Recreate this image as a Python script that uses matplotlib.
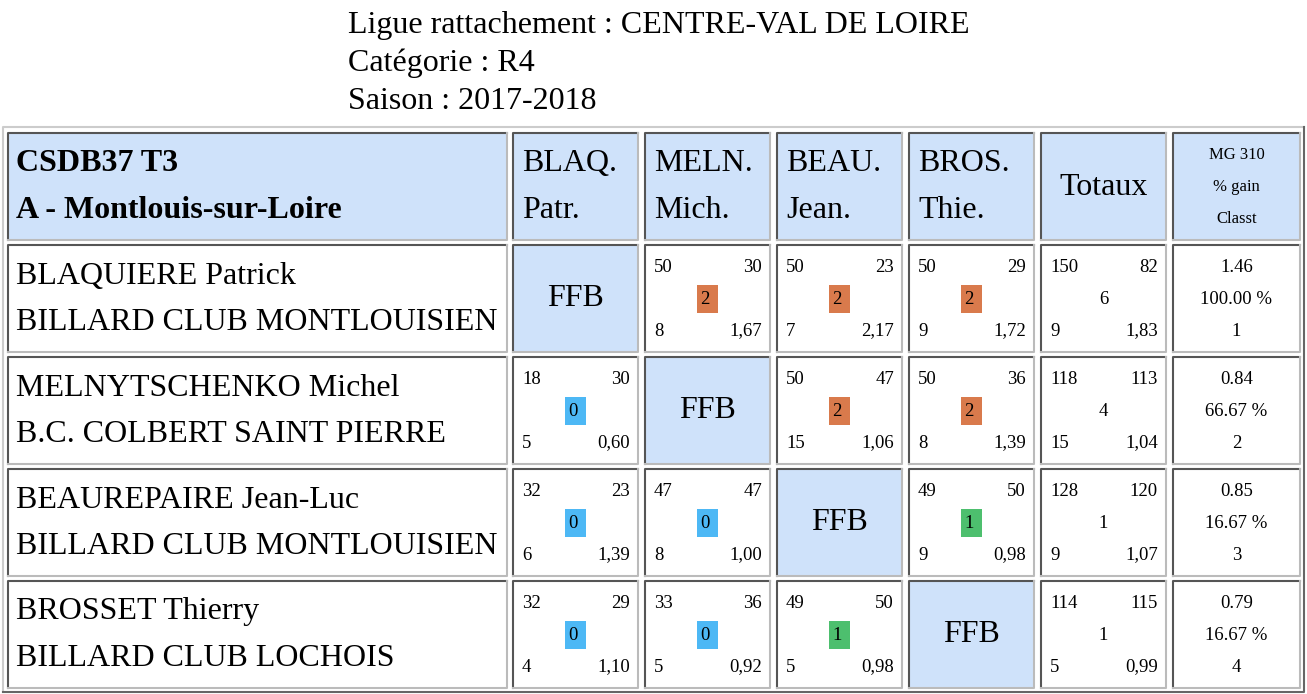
import matplotlib
matplotlib.use("Agg")
import matplotlib.pyplot as plt
from matplotlib.patches import Rectangle

W, H = 1307, 694
SERIF = "Liberation Serif"
BIG, SMALL, TINY = 23, 13.5, 12

header_lines = ["Ligue rattachement : CENTRE-VAL DE LOIRE", "Catégorie : R4", "Saison : 2017-2018"]
team = ["CSDB37 T3", "A - Montlouis-sur-Loire"]
col_heads = [("BLAQ.", "Patr."), ("MELN.", "Mich."), ("BEAU.", "Jean."), ("BROS.", "Thie.")]
players = ["BLAQUIERE Patrick", "MELNYTSCHENKO Michel", "BEAUREPAIRE Jean-Luc", "BROSSET Thierry"]
clubs = ["BILLARD CLUB MONTLOUISIEN", "B.C. COLBERT SAINT PIERRE",
         "BILLARD CLUB MONTLOUISIEN", "BILLARD CLUB LOCHOIS"]
# per game: points, opponent points, match points, innings, average
games = [
    [None, (50, 30, 2, 8, "1,67"), (50, 23, 2, 7, "2,17"), (50, 29, 2, 9, "1,72")],
    [(18, 30, 0, 5, "0,60"), None, (50, 47, 2, 15, "1,06"), (50, 36, 2, 8, "1,39")],
    [(32, 23, 0, 6, "1,39"), (47, 47, 0, 8, "1,00"), None, (49, 50, 1, 9, "0,98")],
    [(32, 29, 0, 4, "1,10"), (33, 36, 0, 5, "0,92"), (49, 50, 1, 5, "0,98"), None],
]
totals = [(150, 82, 6, 9, "1,83"), (118, 113, 4, 15, "1,04"),
          (128, 120, 1, 9, "1,07"), (114, 115, 1, 5, "0,99")]
mg = ["1.46", "0.84", "0.85", "0.79"]
gain = ["100.00 %", "66.67 %", "16.67 %", "16.67 %"]
classt = ["1", "2", "3", "4"]

badge_col = {2: "#d97a4c", 1: "#4dbf6e", 0: "#4db8f5"}
HEAD_BG = "#cfe2fa"

cols = [(8, 507), (513, 638), (645, 770), (777, 902), (909, 1034), (1041, 1166), (1173, 1300)]
rows = [(133, 240), (245, 352), (357, 464), (469, 576), (581, 688)]

fig = plt.figure(figsize=(W / 100, H / 100), dpi=100)
ax = fig.add_axes([0, 0, 1, 1])
ax.set_xlim(0, W); ax.set_ylim(H, 0); ax.axis("off")


def cell(x0, x1, y0, y1, bg="white"):
    ax.add_patch(Rectangle((x0, y0), x1 - x0, y1 - y0, facecolor=bg, edgecolor="none"))
    ax.plot([x0, x0, x1], [y1, y0, y0], color="#555555", lw=1.5)
    ax.plot([x1, x1, x0], [y0, y1, y1], color="#bbbbbb", lw=1.5)


def txt(x, y, s, size=BIG, ha="left", weight="normal"):
    ax.text(x, y, s, fontsize=size, ha=ha, va="center", family=SERIF, weight=weight)


def game(x0, x1, y0, g):
    a, b, m, inn, avg = g
    txt(x0 + 9, y0 + 22, str(a), SMALL)
    txt(x1 - 8, y0 + 22, str(b), SMALL, ha="right")
    cx = (x0 + x1) / 2
    ax.add_patch(Rectangle((cx - 11, y0 + 40), 21, 28, facecolor=badge_col[m], edgecolor="none"))
    txt(cx - 7, y0 + 54, str(m), SMALL)
    txt(x0 + 9, y0 + 86, str(inn), SMALL)
    txt(x1 - 8, y0 + 86, avg, SMALL, ha="right")


# page header
for i, s in enumerate(header_lines):
    txt(348, 25 + i * 38, s)

# outer table border
ax.plot([3, 3, 1304], [692, 127, 127], color="#cccccc", lw=1.5)
ax.plot([1304, 1304, 3], [127, 692, 692], color="#666666", lw=1.5)

# header row
y0, y1 = rows[0]
cell(*cols[0], y0, y1, HEAD_BG)
txt(16, 163, team[0], weight="bold")
txt(16, 210, team[1], weight="bold")
for j, (a, b) in enumerate(col_heads):
    x0, x1 = cols[j + 1]
    cell(x0, x1, y0, y1, HEAD_BG)
    txt(x0 + 9, 163, a)
    txt(x0 + 9, 210, b)
cell(*cols[5], y0, y1, HEAD_BG)
txt(sum(cols[5]) / 2, 187, "Totaux", ha="center")
cell(*cols[6], y0, y1, HEAD_BG)
for k, s in enumerate(["MG 310", "% gain", "Classt"]):
    txt(sum(cols[6]) / 2, 155 + k * 32, s, TINY, ha="center")

# body rows
for i in range(4):
    y0, y1 = rows[i + 1]
    cell(*cols[0], y0, y1)
    txt(16, y0 + 31, players[i])
    txt(16, y0 + 77, clubs[i])
    for j in range(4):
        x0, x1 = cols[j + 1]
        if games[i][j] is None:
            cell(x0, x1, y0, y1, HEAD_BG)
            txt((x0 + x1) / 2, (y0 + y1) / 2, "FFB", ha="center")
        else:
            cell(x0, x1, y0, y1)
            game(x0, x1, y0, games[i][j])
    x0, x1 = cols[5]
    cell(x0, x1, y0, y1)
    a, b, m, inn, avg = totals[i]
    txt(x0 + 9, y0 + 22, str(a), SMALL)
    txt(x1 - 8, y0 + 22, str(b), SMALL, ha="right")
    txt((x0 + x1) / 2, y0 + 54, str(m), SMALL, ha="center")
    txt(x0 + 9, y0 + 86, str(inn), SMALL)
    txt(x1 - 8, y0 + 86, avg, SMALL, ha="right")
    x0, x1 = cols[6]
    cell(x0, x1, y0, y1)
    for k, s in enumerate([mg[i], gain[i], classt[i]]):
        txt((x0 + x1) / 2, y0 + 22 + k * 32, s, SMALL, ha="center")

fig.savefig("out.png", dpi=100)
